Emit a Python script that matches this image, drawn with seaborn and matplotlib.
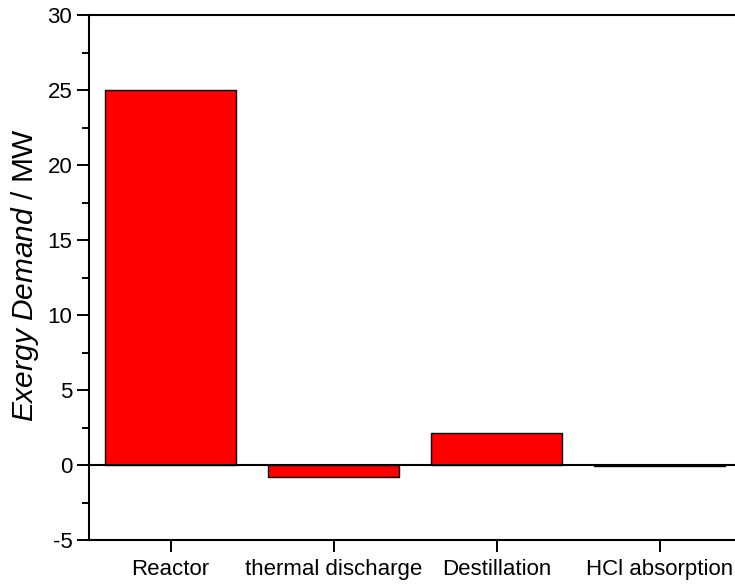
import matplotlib
matplotlib.use("Agg")
import matplotlib.pyplot as plt
import seaborn as sns
import pandas as pd
from matplotlib.ticker import MultipleLocator

categories = ["Reactor", "thermal discharge", "Destillation", "HCl absorption"]
values = [25.0, -0.78, 2.15, -0.08]

sns.set_style("ticks")
plt.rcParams["font.family"] = ["Liberation Sans", "DejaVu Sans"]
plt.rcParams["mathtext.fontset"] = "custom"
plt.rcParams["mathtext.rm"] = "Liberation Sans"
plt.rcParams["mathtext.it"] = "Liberation Sans:italic"
plt.rcParams["axes.unicode_minus"] = False
plt.rcParams["text.color"] = "black"
plt.rcParams["xtick.color"] = "black"
plt.rcParams["ytick.color"] = "black"
plt.rcParams["axes.labelcolor"] = "black"

df = pd.DataFrame({"cat": categories, "val": values})

fig = plt.figure(figsize=(7.35, 5.84), dpi=100)
ax = fig.add_axes([89/735, 1-540/584, (741-89)/735, (540-15)/584])
sns.barplot(data=df, x="cat", y="val", color="#ff0000", edgecolor="black",
            linewidth=1.0, width=0.8, saturation=1, ax=ax)
ax.axhline(0, color="black", lw=1.5, zorder=5)
ax.set_xlim(-0.5, 3.5)
ax.set_ylim(-5, 30)
ax.yaxis.set_major_locator(MultipleLocator(5))
ax.yaxis.set_minor_locator(MultipleLocator(2.5))
ax.tick_params(axis="y", which="major", length=8.5, width=1.4, labelsize=16, direction="out", pad=3.5)
ax.tick_params(axis="y", which="minor", length=4.8, width=1.4, direction="out")
ax.tick_params(axis="x", length=8.5, width=1.4, labelsize=16, direction="out", pad=5)
for s in ["left", "bottom", "top"]:
    ax.spines[s].set_linewidth(1.5)
    ax.spines[s].set_color("black")
ax.spines["right"].set_visible(False)
ax.set_xlabel("")
ax.set_ylabel(r"$\mathit{Exergy\ Demand}$ / MW", fontsize=21.5)
ax.yaxis.set_label_coords(-0.0736, 0.505)
fig.savefig("out.png", dpi=100)
